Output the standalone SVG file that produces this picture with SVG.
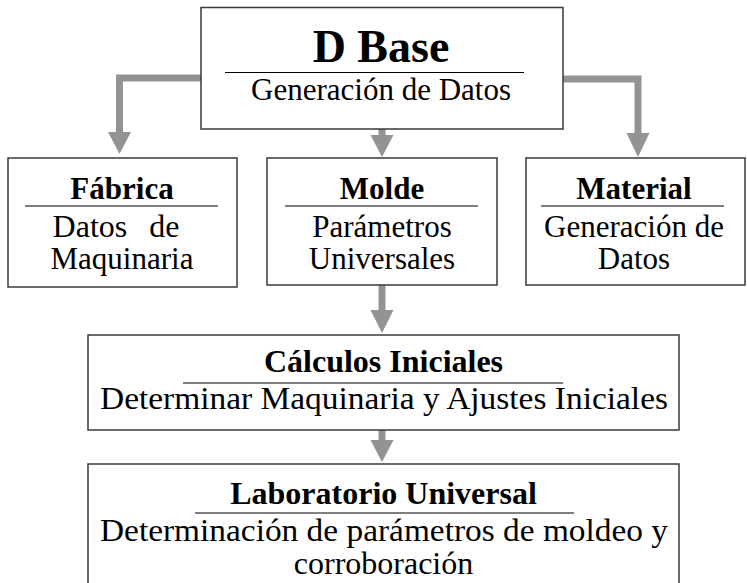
<svg xmlns="http://www.w3.org/2000/svg" width="747" height="583" viewBox="0 0 747 583">
<style>
.box{fill:#fff;stroke:#3a3a3a;stroke-width:1.5}
.t{font-family:"Liberation Serif","Times New Roman",serif;fill:#000;text-anchor:middle}
.b{font-weight:bold}
.u{stroke:#000;stroke-width:1.2}
.sh{fill:none;stroke:#939393;stroke-width:7;stroke-linejoin:miter}
.hd{fill:#939393}
</style>
<rect width="747" height="583" fill="#fff"/>
<g id="connectors">
<polyline class="sh" points="201,78 119.5,78 119.5,133"/>
<polygon class="hd" points="108,132 131,132 119.5,154"/>
<polyline class="sh" points="382,129 382,136"/>
<polygon class="hd" points="370.5,135 393.5,135 382,157"/>
<polyline class="sh" points="563,79 638,79 638,134"/>
<polygon class="hd" points="626.5,133 649.5,133 638,157"/>
<polyline class="sh" points="382,285 382,311"/>
<polygon class="hd" points="370.5,310 393.5,310 382,333"/>
<polyline class="sh" points="382,430 382,441"/>
<polygon class="hd" points="370.5,440 393.5,440 382,462"/>
</g>
<g id="dbase">
<rect class="box" x="201" y="7.5" width="362" height="121.5"/>
<text class="t b" x="381" y="62" font-size="46">D Base</text>
<line class="u" x1="225" y1="72.5" x2="524" y2="72.5"/>
<text class="t" x="381" y="100" font-size="31">Generación de Datos</text>
</g>
<g id="fabrica">
<rect class="box" x="8" y="158" width="229" height="129"/>
<text class="t b" x="122" y="199" font-size="31">Fábrica</text>
<line class="u" x1="25" y1="206" x2="218" y2="206"/>
<text class="t" x="116" y="237" font-size="32" word-spacing="14">Datos de</text>
<text class="t" x="122" y="269" font-size="31">Maquinaria</text>
</g>
<g id="molde">
<rect class="box" x="267" y="158" width="230" height="127"/>
<text class="t b" x="382" y="199" font-size="31">Molde</text>
<line class="u" x1="285" y1="206" x2="478" y2="206"/>
<text class="t" x="382" y="237" font-size="31">Parámetros</text>
<text class="t" x="382" y="269" font-size="31">Universales</text>
</g>
<g id="material">
<rect class="box" x="526" y="158" width="219" height="127"/>
<text class="t b" x="634" y="199" font-size="31">Material</text>
<line class="u" x1="541" y1="206" x2="724" y2="206"/>
<text class="t" x="634" y="237" font-size="31">Generación de</text>
<text class="t" x="634" y="269" font-size="31">Datos</text>
</g>
<g id="calculos">
<rect class="box" x="88" y="335" width="591" height="95"/>
<text class="t b" x="383.5" y="372" font-size="32">Cálculos Iniciales</text>
<line class="u" x1="183" y1="383" x2="563" y2="383"/>
<text class="t" x="384" y="409" font-size="32" textLength="568" lengthAdjust="spacingAndGlyphs">Determinar Maquinaria y Ajustes Iniciales</text>
</g>
<g id="laboratorio">
<rect class="box" x="88" y="464" width="591" height="130"/>
<text class="t b" x="383.5" y="504" font-size="32">Laboratorio Universal</text>
<line class="u" x1="195" y1="513" x2="574" y2="513"/>
<text class="t" x="384" y="541" font-size="32" textLength="568" lengthAdjust="spacingAndGlyphs">Determinación de parámetros de moldeo y</text>
<text class="t" x="383.5" y="574" font-size="32">corroboración</text>
</g>
</svg>
